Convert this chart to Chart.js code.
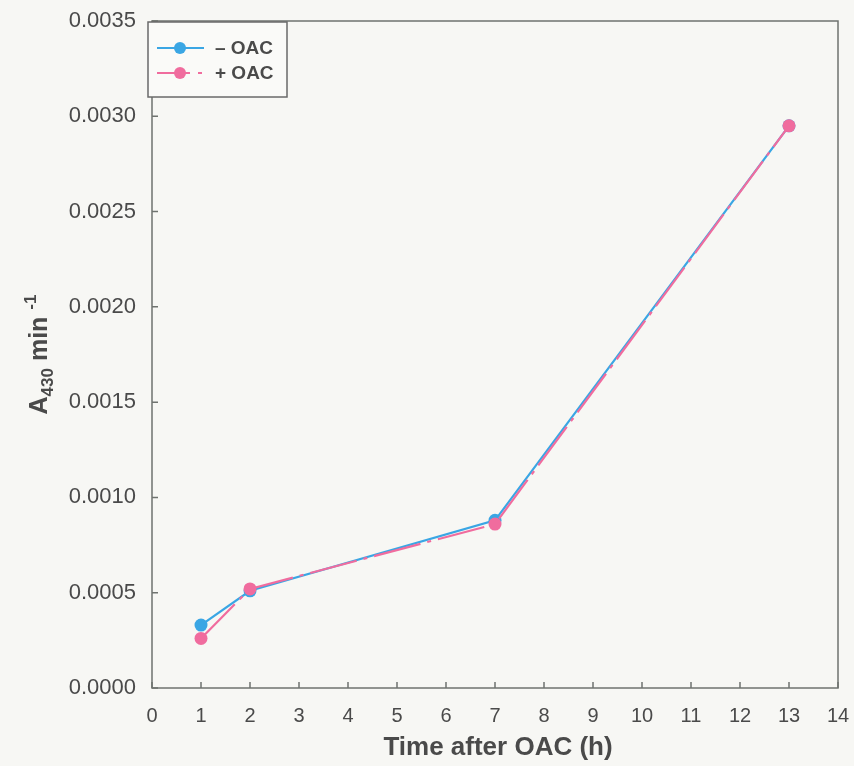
<!DOCTYPE html>
<html>
<head>
<meta charset="utf-8">
<script src="https://cdn.jsdelivr.net/npm/chart.js@4.4.0/dist/chart.umd.min.js"></script>
<style>
  html, body { margin: 0; padding: 0; background: #f7f7f4; }
  #wrap { width: 854px; height: 766px; }
</style>
</head>
<body>
<div id="wrap"><canvas id="chart"></canvas></div>
<script>
// time points (h) and rates
const hours = [1, 2, 7, 13];
const minusOAC = [0.00033, 0.00051, 0.00088, 0.00295];
const plusOAC = [0.00026, 0.00052, 0.00086, 0.00295];
const xTicks = [0, 1, 2, 3, 4, 5, 6, 7, 8, 9, 10, 11, 12, 13, 14];
const yTicks = [0, 0.0005, 0.001, 0.0015, 0.002, 0.0025, 0.003, 0.0035];

const BLUE = '#3aa6e4';
const PINK = '#f06c9e';
const AXIS = '#6f736f';
const TEXT = '#4a4a4a';
const FONT = '"Liberation Sans", Arial, sans-serif';
const PINK_DASH = [48, 7, 4, 7];
const LEGEND_DASH = [33, 8, 4, 8];

const toPoints = (xs, ys) => xs.map((x, i) => ({ x: x, y: ys[i] }));

// frame, inward ticks, axis titles and legend
const decor = {
  id: 'decor',
  afterDraw(chart) {
    const c = chart.ctx;
    const a = chart.chartArea;
    const xs = chart.scales.x, ys = chart.scales.y;
    c.save();
    c.strokeStyle = AXIS;
    c.lineWidth = 1.5;
    c.strokeRect(a.left, a.top, a.right - a.left, a.bottom - a.top);
    c.beginPath();
    xTicks.forEach(v => {
      const px = xs.getPixelForValue(v);
      c.moveTo(px, a.bottom);
      c.lineTo(px, a.bottom - 6);
    });
    yTicks.forEach(v => {
      const py = ys.getPixelForValue(v);
      c.moveTo(a.left, py);
      c.lineTo(a.left + 6, py);
    });
    c.stroke();

    // x title
    c.fillStyle = TEXT;
    c.font = 'bold 26px ' + FONT;
    c.textAlign = 'center';
    c.textBaseline = 'middle';
    c.fillText('Time after OAC (h)', 498, 748);

    // y title with subscript and superscript
    c.save();
    c.translate(38, (a.top + a.bottom) / 2);
    c.rotate(-Math.PI / 2);
    c.textAlign = 'left';
    c.textBaseline = 'alphabetic';
    const big = 'bold 25px ' + FONT;
    const small = 'bold 17px ' + FONT;
    const parts = [
      { t: 'A', f: big, dy: 0 },
      { t: '430', f: small, dy: 6 },
      { t: ' min ', f: big, dy: 0 },
      { t: '-1', f: small, dy: -11 }
    ];
    let w = 0;
    parts.forEach(p => { c.font = p.f; w += c.measureText(p.t).width; });
    let x0 = -w / 2;
    parts.forEach(p => {
      c.font = p.f;
      c.fillText(p.t, x0, 9 + p.dy);
      x0 += c.measureText(p.t).width;
    });
    c.restore();

    // legend box
    const lx = a.left - 4, ly = a.top + 1, lw = 139, lh = 75;
    c.fillStyle = '#fafaf8';
    c.fillRect(lx, ly, lw, lh);
    c.strokeStyle = '#6a6a6a';
    c.lineWidth = 1.5;
    c.strokeRect(lx, ly, lw, lh);
    c.font = 'bold 19px ' + FONT;
    c.textAlign = 'left';
    c.textBaseline = 'middle';
    chart.data.datasets.forEach((ds, i) => {
      const yy = ly + 26 + i * 25;
      c.strokeStyle = ds.borderColor;
      c.lineWidth = 2;
      c.setLineDash(ds.borderDash ? LEGEND_DASH : []);
      c.beginPath();
      c.moveTo(lx + 9, yy);
      c.lineTo(lx + 56, yy);
      c.stroke();
      c.setLineDash([]);
      c.fillStyle = ds.backgroundColor;
      c.beginPath();
      c.arc(lx + 32, yy, 6, 0, Math.PI * 2);
      c.fill();
      c.fillStyle = TEXT;
      c.fillText(ds.label, lx + 67, yy + 1);
    });
    c.restore();
  }
};

new Chart(document.getElementById('chart'), {
  type: 'line',
  data: {
    datasets: [
      {
        label: '\u2013 OAC',
        data: toPoints(hours, minusOAC),
        borderColor: BLUE,
        backgroundColor: BLUE,
        borderWidth: 2.2,
        pointRadius: 6.5,
        pointBorderWidth: 0,
        tension: 0,
        order: 1
      },
      {
        label: '+ OAC',
        data: toPoints(hours, plusOAC),
        borderColor: PINK,
        backgroundColor: PINK,
        borderWidth: 2.2,
        borderDash: PINK_DASH,
        pointRadius: 6.5,
        pointBorderWidth: 0,
        tension: 0,
        order: 0
      }
    ]
  },
  options: {
    responsive: true,
    maintainAspectRatio: false,
    animation: false,
    layout: { padding: { top: 21, right: 16, left: 0, bottom: 0 } },
    plugins: { legend: { display: false }, tooltip: { enabled: false } },
    scales: {
      x: {
        type: 'linear',
        min: 0,
        max: 14,
        afterBuildTicks: s => { s.ticks = xTicks.map(v => ({ value: v })); },
        ticks: {
          color: TEXT,
          font: { family: FONT, size: 20 },
          padding: 8,
          maxRotation: 0
        },
        grid: { display: false },
        border: { display: false },
        afterFit: s => { s.height = 78; s.paddingLeft = 0; s.paddingRight = 0; }
      },
      y: {
        type: 'linear',
        min: 0,
        max: 0.0035,
        afterBuildTicks: s => { s.ticks = yTicks.map(v => ({ value: v })); },
        ticks: {
          color: TEXT,
          font: { family: FONT, size: 22 },
          padding: 8,
          callback: v => v.toFixed(4)
        },
        grid: { display: false },
        border: { display: false },
        afterFit: s => { s.width = 152; s.paddingTop = 0; s.paddingBottom = 0; }
      }
    }
  },
  plugins: [decor]
});
</script>
</body>
</html>
